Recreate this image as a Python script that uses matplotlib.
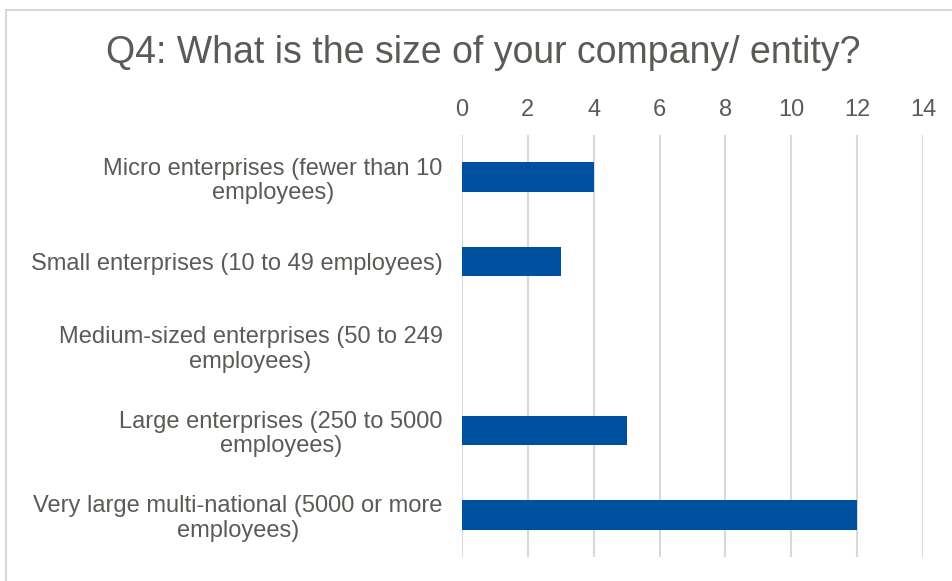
import matplotlib.pyplot as plt
from matplotlib.patches import Rectangle

categories = [
    'Micro enterprises (fewer than 10\nemployees)',
    'Small enterprises (10 to 49 employees)',
    'Medium-sized enterprises (50 to 249\nemployees)',
    'Large enterprises (250 to 5000\nemployees)',
    'Very large multi-national (5000 or more\nemployees)',
]
counts = [4, 3, 0, 5, 12]
xticks = [0, 2, 4, 6, 8, 10, 12, 14]

grey = '#5A5A56'
plt.rcParams['font.family'] = ['Liberation Sans', 'DejaVu Sans']

fig = plt.figure(figsize=(9.53, 5.81), dpi=100)
ax = fig.add_axes([462 / 953, 1 - 557 / 581, (923 - 462) / 953, (557 - 135) / 581])

# chart frame
fig.patches.append(Rectangle((6 / 953, -0.1), 1.1, 1 - 10 / 581 + 0.1,
                             transform=fig.transFigure, fill=False,
                             edgecolor='#D9D9D9', linewidth=1.5))

y = list(range(len(categories)))
ax.barh(y, counts, height=0.35, color='#0050A0', zorder=3)
ax.set_ylim(len(categories) - 0.5, -0.5)
ax.set_xlim(0, 14)
ax.set_xticks(xticks)
ax.set_yticks(y)
ax.set_yticklabels(categories, ha='right', multialignment='center', linespacing=1.15)
ax.xaxis.tick_top()
ax.tick_params(axis='x', length=0, pad=10, labelsize=17, labelcolor=grey)
ax.tick_params(axis='y', length=0, pad=14, labelsize=17, labelcolor=grey)
ax.grid(axis='x', color='#D9D9D9', linewidth=1.5, zorder=0)
for s in ax.spines.values():
    s.set_visible(False)

fig.text(0.507, 1 - 53 / 581, 'Q4: What is the size of your company/ entity?',
         ha='center', va='center', fontsize=27, color=grey)

fig.savefig('out.png', dpi=100)
